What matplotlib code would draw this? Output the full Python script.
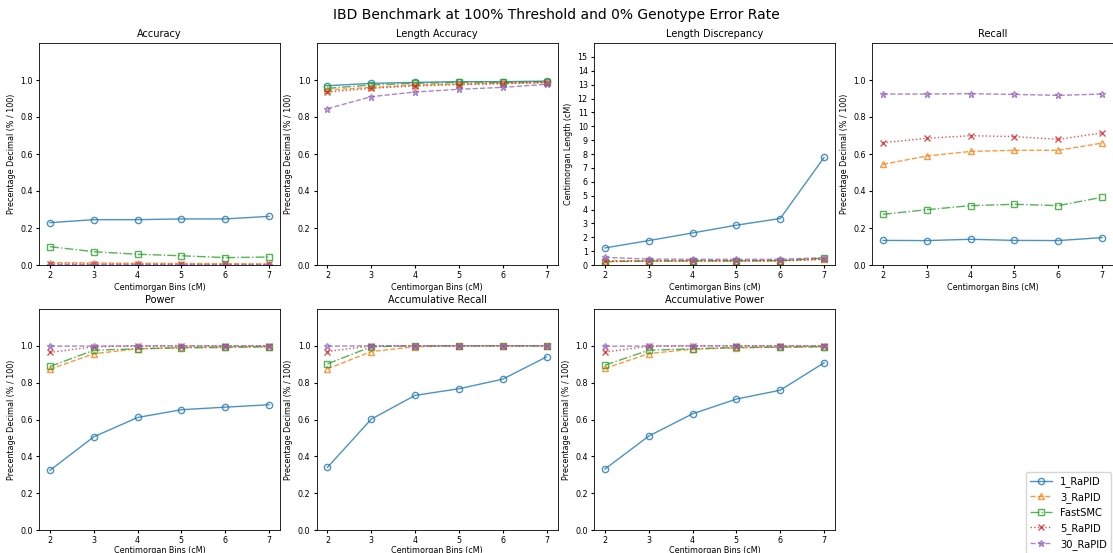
"""
IBD benchmark summary: accuracy, recall and power per centimorgan bin
for the RaPID runs and FastSMC.
"""

import matplotlib
matplotlib.use("Agg")
import matplotlib.pyplot as plt


bins = [2, 3, 4, 5, 6, 7]

methods = ["1_RaPID", "3_RaPID", "FastSMC", "5_RaPID", "30_RaPID"]

# --------------------------------------------------

accuracy = {
    "1_RaPID": [0.229, 0.245, 0.245, 0.249, 0.249, 0.263],
    "3_RaPID": [0.013, 0.011, 0.009, 0.008, 0.007, 0.006],
    "FastSMC": [0.099, 0.072, 0.058, 0.050, 0.040, 0.043],
    "5_RaPID": [0.006, 0.005, 0.004, 0.004, 0.003, 0.003],
    "30_RaPID": [0.002, 0.002, 0.002, 0.001, 0.001, 0.001],
}

length_accuracy = {
    "1_RaPID": [0.969, 0.982, 0.987, 0.991, 0.991, 0.994],
    "3_RaPID": [0.946, 0.960, 0.973, 0.978, 0.982, 0.987],
    "FastSMC": [0.955, 0.973, 0.982, 0.987, 0.987, 0.991],
    "5_RaPID": [0.935, 0.955, 0.968, 0.975, 0.980, 0.986],
    "30_RaPID": [0.845, 0.910, 0.935, 0.950, 0.960, 0.977],
}

length_discrepancy = {
    "1_RaPID": [1.23, 1.76, 2.31, 2.87, 3.35, 7.75],
    "3_RaPID": [0.30, 0.30, 0.31, 0.31, 0.32, 0.40],
    "FastSMC": [0.24, 0.29, 0.30, 0.30, 0.31, 0.50],
    "5_RaPID": [0.27, 0.28, 0.29, 0.29, 0.30, 0.42],
    "30_RaPID": [0.55, 0.43, 0.41, 0.41, 0.41, 0.53],
}

recall = {
    "1_RaPID": [0.133, 0.132, 0.139, 0.133, 0.132, 0.148],
    "3_RaPID": [0.544, 0.589, 0.614, 0.620, 0.620, 0.659],
    "FastSMC": [0.274, 0.299, 0.321, 0.328, 0.321, 0.366],
    "5_RaPID": [0.661, 0.685, 0.699, 0.694, 0.679, 0.714],
    "30_RaPID": [0.924, 0.924, 0.926, 0.922, 0.917, 0.924],
}

power = {
    "1_RaPID": [0.324, 0.506, 0.611, 0.653, 0.667, 0.680],
    "3_RaPID": [0.873, 0.957, 0.984, 0.991, 0.995, 0.996],
    "FastSMC": [0.888, 0.976, 0.984, 0.989, 0.991, 0.995],
    "5_RaPID": [0.964, 0.995, 0.998, 0.999, 1.000, 1.000],
    "30_RaPID": [0.998, 0.999, 1.000, 1.000, 1.000, 1.000],
}

acc_recall = {
    "1_RaPID": [0.340, 0.602, 0.731, 0.767, 0.819, 0.940],
    "3_RaPID": [0.875, 0.969, 0.995, 1.000, 1.000, 1.000],
    "FastSMC": [0.902, 0.995, 1.000, 1.000, 1.000, 1.000],
    "5_RaPID": [0.969, 1.000, 1.000, 1.000, 1.000, 1.000],
    "30_RaPID": [0.998, 1.000, 1.000, 1.000, 1.000, 1.000],
}

acc_power = {
    "1_RaPID": [0.331, 0.510, 0.631, 0.711, 0.759, 0.908],
    "3_RaPID": [0.877, 0.958, 0.982, 0.989, 0.993, 0.996],
    "FastSMC": [0.895, 0.976, 0.984, 0.991, 0.993, 0.995],
    "5_RaPID": [0.966, 0.998, 0.999, 1.000, 1.000, 1.000],
    "30_RaPID": [0.998, 0.999, 1.000, 1.000, 1.000, 1.000],
}

# --------------------------------------------------

styles = {
    "1_RaPID": dict(color="tab:blue", marker="o", linestyle="-"),
    "3_RaPID": dict(color="tab:orange", marker="^", linestyle="--"),
    "FastSMC": dict(color="tab:green", marker="s", linestyle="-."),
    "5_RaPID": dict(color="tab:red", marker="x", linestyle=":"),
    "30_RaPID": dict(color="tab:purple", marker="*", linestyle="--"),
}

panels = [
    ("Accuracy", accuracy, "Precentage Decimal (% / 100)", 1.2),
    ("Length Accuracy", length_accuracy, "Precentage Decimal (% / 100)", 1.2),
    ("Length Discrepancy", length_discrepancy, "Centimorgan Length (cM)", 16),
    ("Recall", recall, "Precentage Decimal (% / 100)", 1.2),
    ("Power", power, "Precentage Decimal (% / 100)", 1.2),
    ("Accumulative Recall", acc_recall, "Precentage Decimal (% / 100)", 1.2),
    ("Accumulative Power", acc_power, "Precentage Decimal (% / 100)", 1.2),
]

W, H = 1113, 553
fig = plt.figure(figsize=(W / 100, H / 100), dpi=100)

lefts = [39, 316.5, 594, 872]
rows = [(43, 265), (309, 530)]
width = 241

fig.suptitle(
    "IBD Benchmark at 100% Threshold and 0% Genotype Error Rate",
    fontsize=10,
    y=0.985,
)

handles = []

for i, (title, data, ylabel, ytop) in enumerate(panels):

    top, bottom = rows[i // 4]
    left = lefts[i % 4]

    ax = fig.add_axes([
        left / W,
        1 - bottom / H,
        width / W,
        (bottom - top) / H,
    ])

    handles = []
    for name in methods:
        line, = ax.plot(
            bins,
            data[name],
            label=name,
            linewidth=1.0,
            markersize=4.5,
            markerfacecolor="none",
            alpha=0.8,
            **styles[name]
        )
        handles.append(line)

    # bottom row sits close to the figure edge, keep its x label tight
    pad = 2 if i < 4 else 0.5

    ax.set_title(title, fontsize=7, pad=4)
    ax.set_xlabel("Centimorgan Bins (cM)", fontsize=5.8, labelpad=pad)
    ax.set_ylabel(ylabel, fontsize=5.8, labelpad=3)

    ax.set_ylim(0, ytop)
    if ytop > 2:
        ax.set_yticks(range(0, 16))
    else:
        ax.set_yticks([0.0, 0.2, 0.4, 0.6, 0.8, 1.0])

    ax.set_xticks(bins)
    ax.tick_params(labelsize=5.8, length=2.5, pad=2)

    for spine in ax.spines.values():
        spine.set_linewidth(0.6)

fig.legend(
    handles,
    methods,
    loc="upper left",
    bbox_to_anchor=(1026 / W, 1 - 472 / H),
    fontsize=7.2,
    handlelength=2.2,
    borderaxespad=0,
)

plt.savefig("out.png", dpi=100)

plt.close()

print("Saved out.png")
